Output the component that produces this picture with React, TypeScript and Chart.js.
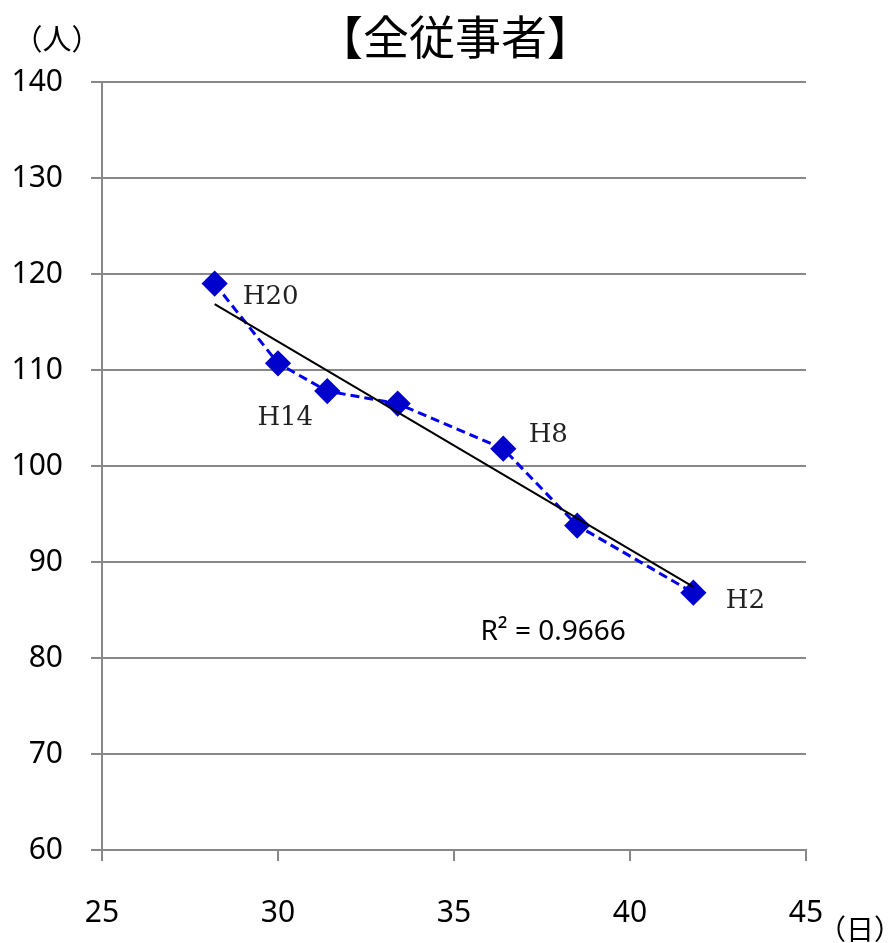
import React, { useEffect, useRef } from "react";
import { Chart, registerables } from "chart.js";

Chart.register(...registerables);

// 日数（日） vs 従事者数（人）
const DAYS = [28.2, 30.0, 31.4, 33.4, 36.4, 38.5, 41.8];
const PERSONS = [119.0, 110.7, 107.8, 106.5, 101.8, 93.8, 86.8];
const POINT_LABELS = ["H20", "", "H14", "", "H8", "", "H2"];
const X_TICKS = [25, 30, 35, 40, 45];
const Y_TICKS = [60, 70, 80, 90, 100, 110, 120, 130, 140];
const TITLE = "【全従事者】";
const Y_UNIT = "（人）";
const X_UNIT = "（日）";
const R2_TEXT = "R² = 0.9666";

const SANS = "'Noto Sans', 'Liberation Sans', sans-serif";
const CJK = "'Noto Sans CJK JP', 'Noto Sans', sans-serif";
const SERIF = "'DejaVu Serif', 'Liberation Serif', serif";

// label offsets (pixels) relative to their point: [dx center, dy of baseline]
const LABEL_OFFSETS: Record<string, [number, number]> = {
  H20: [56, 20],
  H14: [-42, 34],
  H8: [45, -7],
  H2: [52, 15],
};

export default function App() {
  const ref = useRef<HTMLCanvasElement>(null);

  useEffect(() => {
    const n = DAYS.length;
    const mx = DAYS.reduce((a, b) => a + b, 0) / n;
    const my = PERSONS.reduce((a, b) => a + b, 0) / n;
    let sxy = 0;
    let sxx = 0;
    for (let i = 0; i < n; i++) {
      sxy += (DAYS[i] - mx) * (PERSONS[i] - my);
      sxx += (DAYS[i] - mx) * (DAYS[i] - mx);
    }
    const slope = sxy / sxx;
    const intercept = my - slope * mx;
    const xmin = Math.min(...DAYS);
    const xmax = Math.max(...DAYS);

    const textPlugin = {
      id: "texts",
      afterDraw(chart: any) {
        const ctx = chart.ctx as CanvasRenderingContext2D;
        const area = chart.chartArea;
        const xs = chart.scales.x;
        const ys = chart.scales.y;
        ctx.save();
        ctx.fillStyle = "#000";

        // title
        ctx.font = `46px ${CJK}`;
        ctx.textAlign = "center";
        ctx.textBaseline = "middle";
        ctx.fillText(TITLE, 455, 37);

        // y unit
        ctx.font = `29px ${CJK}`;
        ctx.textAlign = "center";
        ctx.fillText(Y_UNIT, 57, 39);

        // x unit
        ctx.font = `28px ${CJK}`;
        ctx.textAlign = "left";
        ctx.fillText(X_UNIT, area.right + 12, 929);

        // point labels
        ctx.font = `26px ${SERIF}`;
        ctx.textAlign = "center";
        ctx.textBaseline = "alphabetic";
        ctx.fillStyle = "#222";
        POINT_LABELS.forEach((lab, i) => {
          if (!lab) return;
          const off = LABEL_OFFSETS[lab] || [30, 0];
          const px = xs.getPixelForValue(DAYS[i]);
          const py = ys.getPixelForValue(PERSONS[i]);
          ctx.fillText(lab, px + off[0], py + off[1]);
        });

        // R^2
        ctx.fillStyle = "#000";
        ctx.font = `28px ${SANS}`;
        ctx.textAlign = "left";
        ctx.fillText(R2_TEXT, xs.getPixelForValue(35.75), 640);
        ctx.restore();
      },
    };

    const chart = new Chart(ref.current!, {
      type: "scatter",
      data: {
        datasets: [
          {
            label: "trend",
            data: [
              { x: xmin, y: intercept + slope * xmin },
              { x: xmax, y: intercept + slope * xmax },
            ],
            showLine: true,
            borderColor: "#000000",
            borderWidth: 2,
            pointRadius: 0,
            order: 0,
          },
          {
            label: "data",
            data: DAYS.map((d, i) => ({ x: d, y: PERSONS[i] })),
            showLine: true,
            borderColor: "#0000EE",
            borderWidth: 3,
            borderDash: [9, 5],
            pointStyle: "rectRot",
            pointRadius: 11,
            pointBackgroundColor: "#0000CC",
            pointBorderColor: "#0000CC",
            pointBorderWidth: 3,
            order: 1,
          },
        ],
      },
      options: {
        responsive: false,
        animation: false,
        devicePixelRatio: 1,
        layout: { padding: { top: 82, right: 86, left: 0, bottom: 0 } },
        plugins: {
          legend: { display: false },
          tooltip: { enabled: false },
          title: { display: false },
        },
        scales: {
          x: {
            type: "linear",
            min: 25,
            max: 45,
            afterBuildTicks: (s: any) => {
              s.ticks = X_TICKS.map((v) => ({ value: v }));
            },
            ticks: {
              color: "#000",
              font: { family: SANS, size: 30 },
              padding: 34,
              maxRotation: 0,
            },
            grid: {
              drawOnChartArea: false,
              drawTicks: true,
              tickLength: 11,
              color: "#888888",
              lineWidth: 2,
            },
            border: { display: true, color: "#888888", width: 2 },
            afterFit: (s: any) => {
              s.height = 93;
            },
          },
          y: {
            type: "linear",
            min: 60,
            max: 140,
            afterBuildTicks: (s: any) => {
              s.ticks = Y_TICKS.map((v) => ({ value: v }));
            },
            ticks: {
              color: "#000",
              font: { family: SANS, size: 30 },
              padding: 28,
            },
            grid: {
              drawTicks: true,
              tickLength: 11,
              color: "#888888",
              lineWidth: 2,
            },
            border: { display: true, color: "#888888", width: 2 },
            afterFit: (s: any) => {
              s.width = 102;
            },
          },
        },
      } as any,
      plugins: [textPlugin],
    });
    return () => chart.destroy();
  }, []);

  return (
    <div style={{ position: "absolute", left: 0, top: 0, width: 892, height: 943, background: "#fff" }}>
      <canvas ref={ref} width={892} height={943} style={{ display: "block" }} />
    </div>
  );
}
